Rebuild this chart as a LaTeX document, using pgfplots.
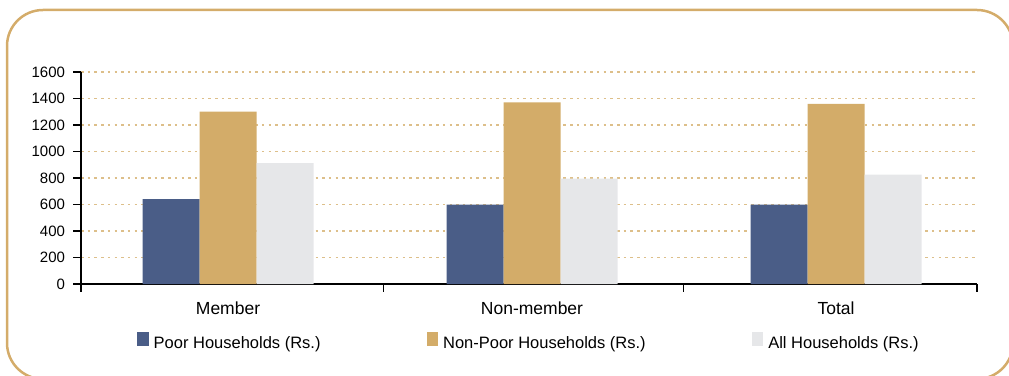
\documentclass[border=0pt]{standalone}
\usepackage{pgfplots}
\pgfplotsset{compat=1.18}
\usepackage{fontspec}
\setmainfont{Liberation Sans}
\definecolor{navy}{HTML}{4A5D87}
\definecolor{tanbar}{HTML}{D3AC69}
\definecolor{lgray}{HTML}{E6E7E9}
\definecolor{gridtan}{HTML}{DDBF8A}
\definecolor{framec}{HTML}{D4AC6A}
\begin{document}
\begin{tikzpicture}[x=1pt,y=1pt]
\useasboundingbox (0,0) rectangle (1009,375);
\begin{scope}
\clip (0,0) rectangle (1009,375);
\draw[framec, line width=2.5pt, rounded corners=36pt] (7,-4) rectangle (1013,365);
\end{scope}
\begin{axis}[
  at={(81pt,91pt)}, anchor=south west,
  scale only axis, width=896pt, height=212pt,
  xmin=-0.4836, xmax=2.4638, ymin=0, ymax=1600,
  axis x line=bottom, axis y line=left,
  axis line style={-, black, line width=1.3pt},
  ybar=0pt, bar width=0.1875,
  tick align=outside, major tick length=7.5pt,
  xtick={-0.4836,0.512,1.499,2.4638}, xticklabels={},
  x tick style={black, line width=1.3pt},
  extra x ticks={0,1,2},
  extra x tick labels={Member,Non-member,Total},
  extra x tick style={major tick length=0pt, tick style={draw=none},
    xticklabel style={anchor=base, yshift=-30pt, font=\fontsize{17.5}{20}\selectfont}},
  ytick={0,200,...,1600},
  y tick style={black, line width=1.3pt},
  yticklabel style={xshift=-5pt, font=\fontsize{15}{18}\selectfont, /pgf/number format/1000 sep={}, /pgf/number format/assume math mode=true},
  ymajorgrids,
  major grid style={gridtan, line width=1.5pt, dash pattern=on 2.5pt off 4.2pt},
  legend columns=3,
  legend style={at={(axis description cs:0.0625,-0.2689)}, anchor=west, draw=none, fill=none, inner sep=0pt,
    nodes={inner sep=0pt, font=\fontsize{16.5}{19}\selectfont},
    /tikz/every odd column/.append style={column sep=5pt},
    /tikz/every even column/.append style={column sep=106pt}},
  legend image code/.code={\path (0pt,-3pt) rectangle (11.5pt,11.5pt); \fill[#1, draw=none] (0pt,0pt) rectangle (11.5pt,11.5pt);},
]
\addplot[fill=navy, draw=none, bar shift=-0.1875] coordinates {(0,640) (1,600) (2,600)};
\addplot[fill=tanbar, draw=none, bar shift=0] coordinates {(0,1300) (1,1370) (2,1360)};
\addplot[fill=lgray, draw=none, bar shift=0.1875] coordinates {(0,912) (1,795) (2,825)};
\legend{Poor Households (Rs.), Non-Poor Households (Rs.), All Households (Rs.)}
\end{axis}
\end{tikzpicture}
\end{document}
